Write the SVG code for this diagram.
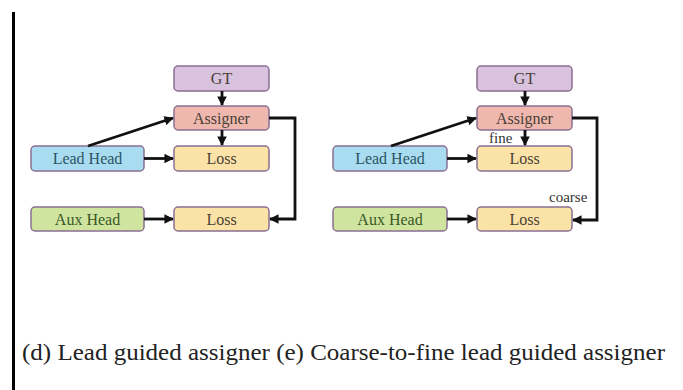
<svg xmlns="http://www.w3.org/2000/svg" width="683" height="390" viewBox="0 0 683 390">
<style>
.box{stroke:#8a6f92;stroke-width:1.5}
.gt{fill:#d8c2de}
.as{fill:#efb8ae}
.loss{fill:#fbe3a8}
.lead{fill:#a9dcf0}
.aux{fill:#cfe49e}
.t{font-size:16px;text-anchor:middle;dominant-baseline:central}
.tgt,.tas,.tloss{fill:#4a3f36}
.tlead{fill:#2a5563}
.taux{fill:#3a5829}
.lbl{font-size:15px;fill:#333}
.c{fill:none;stroke:#111;stroke-width:2.8}
.cap{font-size:24px;fill:#222}
</style>
<defs>
<marker id="ah" viewBox="0 0 10 10" refX="9" refY="5" markerWidth="3.4" markerHeight="3.4" orient="auto" markerUnits="strokeWidth">
<path d="M0,0 L10,5 L0,10 z" fill="#111"/>
</marker>
</defs>
<rect x="0" y="0" width="683" height="390" fill="#ffffff"/>
<rect x="12" y="12" width="3" height="378" fill="#000"/>
<g font-family="'Liberation Serif', 'Times New Roman', serif">
<!-- left diagram (d) -->
<g id="d-gt"><rect class="box gt" x="174" y="66" width="95" height="25" rx="4"/><text class="t tgt" x="221.5" y="78.5">GT</text></g>
<g id="d-assigner"><rect class="box as" x="174" y="106" width="95" height="24" rx="4"/><text class="t tas" x="221.5" y="118">Assigner</text></g>
<g id="d-loss1"><rect class="box loss" x="174" y="146" width="95" height="25" rx="4"/><text class="t tloss" x="221.5" y="158.5">Loss</text></g>
<g id="d-lead"><rect class="box lead" x="31" y="146" width="113" height="25" rx="4"/><text class="t tlead" x="87.5" y="158.5">Lead Head</text></g>
<g id="d-aux"><rect class="box aux" x="31" y="207" width="113" height="24" rx="4"/><text class="t taux" x="87.5" y="219">Aux Head</text></g>
<g id="d-loss2"><rect class="box loss" x="174" y="207" width="95" height="24" rx="4"/><text class="t tloss" x="221.5" y="219">Loss</text></g>

<!-- right diagram (e) -->
<g id="e-gt"><rect class="box gt" x="477" y="66" width="95" height="25" rx="4"/><text class="t tgt" x="524.5" y="78.5">GT</text></g>
<g id="e-assigner"><rect class="box as" x="477" y="106" width="95" height="24" rx="4"/><text class="t tas" x="524.5" y="118">Assigner</text></g>
<g id="e-loss1"><rect class="box loss" x="477" y="146" width="95" height="25" rx="4"/><text class="t tloss" x="524.5" y="158.5">Loss</text></g>
<g id="e-lead"><rect class="box lead" x="333" y="146" width="114" height="25" rx="4"/><text class="t tlead" x="390" y="158.5">Lead Head</text></g>
<g id="e-aux"><rect class="box aux" x="333" y="207" width="114" height="24" rx="4"/><text class="t taux" x="390" y="219">Aux Head</text></g>
<g id="e-loss2"><rect class="box loss" x="477" y="207" width="95" height="24" rx="4"/><text class="t tloss" x="524.5" y="219">Loss</text></g>

<g id="connectors">
<line class="c" x1="222" y1="91" x2="222" y2="105" marker-end="url(#ah)"/>
<line class="c" x1="222" y1="130" x2="222" y2="145" marker-end="url(#ah)"/>
<line class="c" x1="88" y1="146" x2="173" y2="118" marker-end="url(#ah)"/>
<line class="c" x1="144" y1="158.5" x2="173" y2="158.5" marker-end="url(#ah)"/>
<line class="c" x1="144" y1="219" x2="173" y2="219" marker-end="url(#ah)"/>
<polyline class="c" points="269,118 295,118 295,219 270,219" marker-end="url(#ah)"/>

<line class="c" x1="525" y1="91" x2="525" y2="105" marker-end="url(#ah)"/>
<line class="c" x1="525" y1="130" x2="525" y2="145" marker-end="url(#ah)"/>
<line class="c" x1="391" y1="146" x2="476" y2="118" marker-end="url(#ah)"/>
<line class="c" x1="447" y1="158.5" x2="476" y2="158.5" marker-end="url(#ah)"/>
<line class="c" x1="447" y1="219" x2="476" y2="219" marker-end="url(#ah)"/>
<polyline class="c" points="572,118 597,118 597,220 573,220" marker-end="url(#ah)"/>
</g>

<text class="lbl" x="489" y="143">fine</text>
<text class="lbl" x="549" y="202">coarse</text>

<text class="cap" x="22" y="360" textLength="643" lengthAdjust="spacingAndGlyphs">(d) Lead guided assigner (e) Coarse-to-fine lead guided assigner</text>
</g>
</svg>
